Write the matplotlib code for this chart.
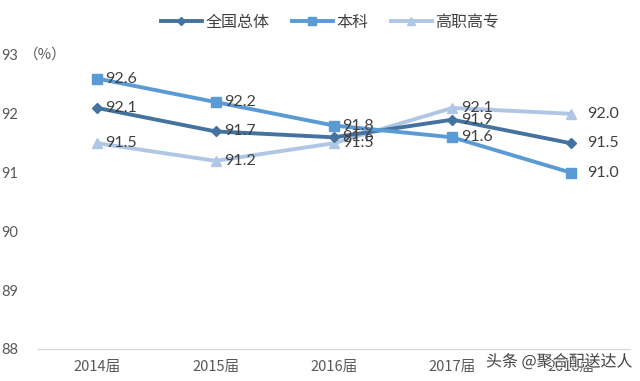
import matplotlib
matplotlib.use("Agg")
import matplotlib.pyplot as plt
import matplotlib.patheffects as pe

plt.rcParams['font.family'] = ['Noto Sans CJK SC', 'DejaVu Sans']

categories = ['2014届', '2015届', '2016届', '2017届', '2018届']
overall = [92.1, 91.7, 91.6, 91.9, 91.5]
undergrad = [92.6, 92.2, 91.8, 91.6, 91.0]
vocational = [91.5, 91.2, 91.5, 92.1, 92.0]
series_names = ['全国总体', '本科', '高职高专']
yticks = [88, 89, 90, 91, 92, 93]

colors = ['#45739F', '#5B9BD5', '#AFC7E5']
markers = ['D', 's', '^']
msizes = [5, 7, 7]

fig = plt.figure(figsize=(6.4, 3.81), dpi=100)
ax = fig.add_axes([38/640, 1-349/381, 592/640, (349-55)/381])

x = list(range(len(categories)))
data = [overall, undergrad, vocational]
order = [2, 0, 1]
handles = {}
for i in order:
    h, = ax.plot(x, data[i], color=colors[i], lw=2.8, marker=markers[i],
                 markersize=msizes[i], label=series_names[i], zorder=3)
    handles[i] = h

for i in range(3):
    for xi, v in zip(x, data[i]):
        dx = 0.07 if xi < 4 else 0.14
        ax.text(xi + dx, v, f'{v:.1f}', fontsize=11.5, color='#404040',
                va='center', ha='left', zorder=4, family=['Lato'])

ax.set_xlim(-0.5, 4.5)
ax.set_ylim(88, 93)
ax.set_yticks(yticks)
ax.set_yticklabels([str(t) for t in yticks], fontsize=10.5, color='#595959',
                   family=['Lato'])
ax.set_xticks(x)
ax.set_xticklabels(categories, fontsize=10.5, color='#595959')
ax.tick_params(axis='both', length=0)
ax.tick_params(axis='y', pad=14)
ax.tick_params(axis='x', pad=8)
for s in ['top', 'right', 'left']:
    ax.spines[s].set_visible(False)
ax.spines['bottom'].set_color('#D9D9D9')
ax.spines['bottom'].set_linewidth(1)

fig.text(24/640, 1-55/381, '（%）', fontsize=10.5, color='#595959', va='center', ha='left')

leg = fig.legend([handles[0], handles[1], handles[2]], series_names,
                 loc='center', bbox_to_anchor=(330/640, 1-22/381), ncol=3,
                 frameon=False, fontsize=11.5, handlelength=2.6, columnspacing=1.4,
                 handletextpad=0.2, markerscale=0.8)
for t in leg.get_texts():
    t.set_color('#404040')

fig.text(486/640, 1-362/381, '头条 @聚合配送达人', fontsize=11.5, color='#333333',
         va='center', ha='left', alpha=0.9,
         path_effects=[pe.withStroke(linewidth=1.2, foreground='white')])

fig.savefig('out.png', dpi=100)
